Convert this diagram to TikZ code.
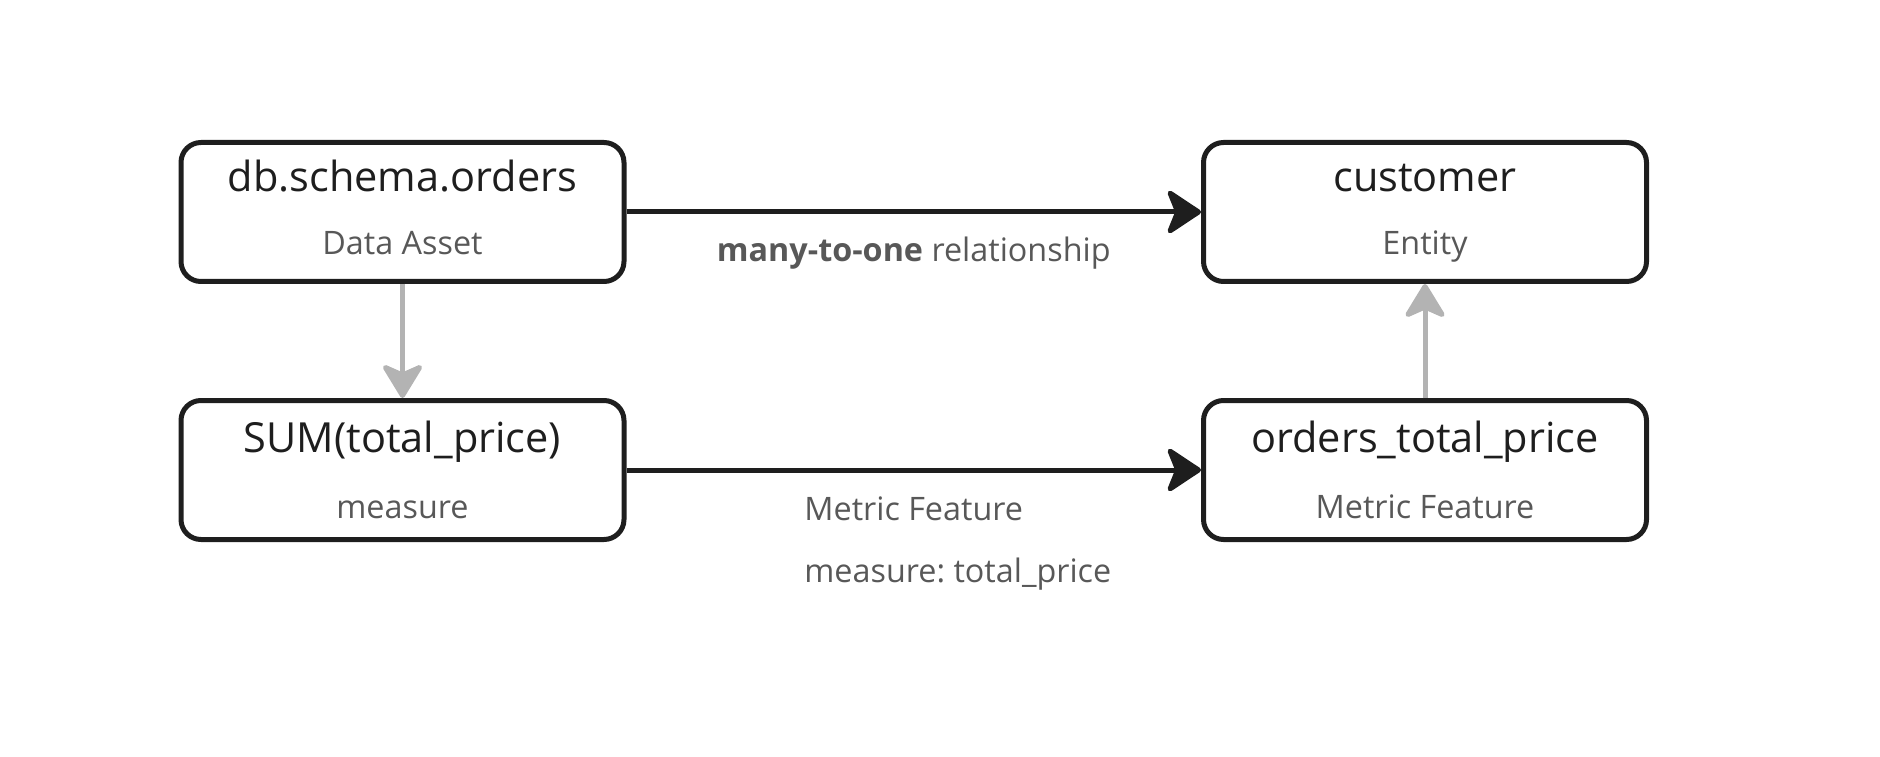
\documentclass[tikz,border=0pt]{standalone}
\usepackage{fontspec}
\setmainfont{Open Sans}
\usetikzlibrary{calc,arrows.meta}
\definecolor{ink}{HTML}{1E1E1E}
\definecolor{subgray}{HTML}{585858}
\definecolor{linkgray}{HTML}{B3B3B3}
\tikzset{
    box/.style={draw=ink, line width=0.05cm, rounded corners=0.2cm,
        minimum width=4.43cm, minimum height=1.39cm, inner sep=0pt},
    title/.style={anchor=base, text=ink, font=\fontsize{11.8}{14}\selectfont},
    subtitle/.style={anchor=base, text=subgray, font=\fontsize{9.2}{11}\selectfont\frenchspacing},
    rel/.style={draw=ink, line width=0.05cm,
        -{Stealth[length=0.38cm, width=0.5cm, inset=0.1cm, round]}},
    derive/.style={draw=linkgray, line width=0.05cm,
        -{Stealth[length=0.38cm, width=0.46cm, inset=0.1cm, round]}}
}

\begin{document}
\begin{tikzpicture}
            % canvas
            \useasboundingbox (0,0) rectangle (18.8,7.56);
            % coordinates
            \coordinate (topleft) at (4.025,5.44);
            \coordinate (topright) at (14.25,5.44);
            \coordinate (botleft) at (4.025,2.86);
            \coordinate (botright) at (14.25,2.86);
            % boxes
            \node[box] (orders) at (topleft) {};
            \node[box] (customer) at (topright) {};
            \node[box] (sumprice) at (botleft) {};
            \node[box] (ordtotal) at (botright) {};
            % box titles
            \node[title] (orderstitle) at ($(orders.center) + (0,0.2)$) {db.schema.orders};
            \node[title] (customertitle) at ($(customer.center) + (0,0.2)$) {customer};
            \node[title] (sumtitle) at ($(sumprice.center) + (0,0.18)$) {SUM(total\_price)};
            \node[title] (ordtotaltitle) at ($(ordtotal.center) + (0,0.18)$) {orders\_total\_price};
            % box kinds
            \node[subtitle] (orderskind) at ($(orders.center) + (0,-0.43)$) {Data Asset};
            \node[subtitle] (customerkind) at ($(customer.center) + (0,-0.43)$) {Entity};
            \node[subtitle] (sumkind) at ($(sumprice.center) + (0,-0.48)$) {measure};
            \node[subtitle] (ordtotalkind) at ($(ordtotal.center) + (0,-0.48)$) {Metric Feature};
            % relationship arrows
            \draw[rel] (orders.east) -- (customer.west);
            \draw[rel] (sumprice.east) -- (ordtotal.west);
            % derivation arrows
            \draw[derive] (orders.south) -- (sumprice.north);
            \draw[derive] (ordtotal.north) -- (customer.south);
            % arrow labels
            \node[subtitle] (rellabel) at ($(orders.east)!0.5!(customer.west) + (0,-0.5)$) {\textbf{many-to-one} relationship};
            \node[subtitle] (featlabel) at ($(sumprice.east)!0.5!(ordtotal.west) + (0,-0.5)$) {Metric Feature};
            \node[subtitle, anchor=base west] (measlabel) at ($(featlabel.base west) + (0,-0.62)$) {measure: total\_price};
        \end{tikzpicture}
\end{document}
